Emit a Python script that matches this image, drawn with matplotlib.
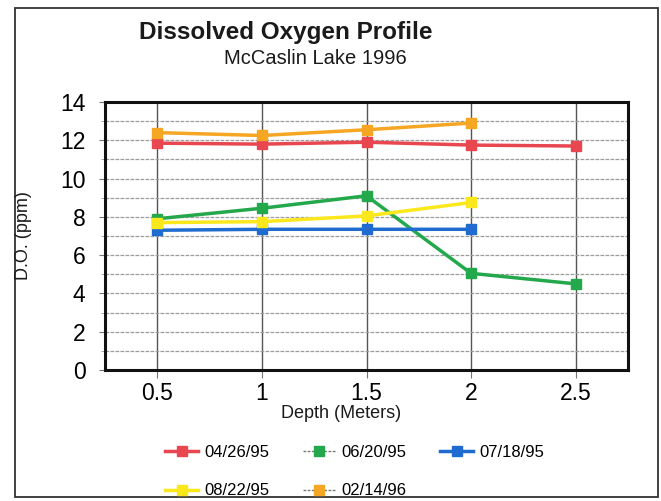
import matplotlib
matplotlib.use("Agg")
import matplotlib.pyplot as plt
from matplotlib.lines import Line2D
from matplotlib.patches import Rectangle

plt.rcParams['font.family'] = ['Liberation Sans', 'DejaVu Sans']

# depth in meters
depth = [0.5, 1.0, 1.5, 2.0, 2.5]

# dissolved oxygen (ppm) per sampling date
do_0426 = [11.85, 11.8, 11.9, 11.75, 11.7]
do_0620 = [7.9, 8.45, 9.1, 5.05, 4.5]
do_0718 = [7.3, 7.35, 7.35, 7.35]
do_0822 = [7.7, 7.75, 8.05, 8.75]
do_0214 = [12.4, 12.25, 12.55, 12.9]

dates = ['04/26/95', '06/20/95', '07/18/95', '08/22/95', '02/14/96']
y_ticks = [0, 2, 4, 6, 8, 10, 12, 14]

colors = {
    '04/26/95': '#e8474f',
    '06/20/95': '#23a84b',
    '07/18/95': '#1f6bcf',
    '08/22/95': '#fbe81c',
    '02/14/96': '#f5a623',
}

fig = plt.figure(figsize=(6.61, 5.01), dpi=100)
ax = fig.add_axes([105 / 661, 1 - 370 / 501, 523 / 661, 268 / 501])

series = [do_0426, do_0620, do_0718, do_0822, do_0214]
for label, vals in zip(dates, series):
    ax.plot(depth[:len(vals)], vals, color=colors[label], linewidth=2.5,
            marker='s', markersize=7.5, zorder=3)

ax.set_xlim(0.25, 2.75)
ax.set_ylim(0, 14)
ax.set_xticks(depth)
ax.set_xticklabels(['0.5', '1', '1.5', '2', '2.5'])
ax.set_yticks(y_ticks)
ax.set_yticks(range(0, 15), minor=True)

# grid
ax.grid(axis='y', which='both', color='#9c9c9c', linestyle=(0, (3, 1)), linewidth=0.9)
ax.grid(axis='x', which='major', color='#555555', linestyle='-', linewidth=1.0)
ax.set_axisbelow(True)

for side in ['left', 'right', 'top', 'bottom']:
    ax.spines[side].set_linewidth(2.2)
    ax.spines[side].set_color('#111111')

ax.tick_params(axis='y', which='major', labelsize=16.5, length=4, color='#777777', pad=10)
ax.tick_params(axis='y', which='minor', length=3, color='#999999')
ax.tick_params(axis='x', labelsize=16.5, length=6, color='#777777', pad=3)

# titles and axis labels
fig.text(286 / 661, 1 - 33 / 501, 'Dissolved Oxygen Profile', ha='center', va='center',
         fontsize=17.5, fontweight='bold', color='#1a1a1a')
fig.text(315 / 661, 1 - 58 / 501, 'McCaslin Lake 1996', ha='center', va='center',
         fontsize=14.5, color='#1a1a1a')
fig.text(341 / 661, 1 - 413 / 501, 'Depth (Meters)', ha='center', va='center',
         fontsize=13, color='#1a1a1a')
fig.text(24 / 661, 1 - 236 / 501, 'D.O. (ppm)', ha='center', va='center',
         rotation=90, fontsize=13, color='#1a1a1a')

# legend (ordered so that columns fill row by row)
def handle(label, dashed=False):
    if dashed:
        return Line2D([], [], color='#777777', linestyle=(0, (2, 1)), linewidth=1.0,
                      marker='s', markersize=7.5, markerfacecolor=colors[label],
                      markeredgecolor=colors[label])
    return Line2D([], [], color=colors[label], linewidth=2.5, marker='s', markersize=7.5)

order = ['04/26/95', '08/22/95', '06/20/95', '02/14/96', '07/18/95']
handles = [handle(d, dashed=d in ('06/20/95', '02/14/96')) for d in order]
fig.legend(handles, order, loc='upper left', bbox_to_anchor=(165 / 661, 1 - 445 / 501),
           ncol=3, frameon=False, fontsize=12, handlelength=2.0, handletextpad=0.35,
           columnspacing=2.0, labelspacing=1.4, borderpad=0, borderaxespad=0)

# outer border
fig.patches.append(Rectangle((15 / 661, 1 - 497 / 501), 643 / 661, 489 / 501,
                             transform=fig.transFigure, fill=False,
                             edgecolor='#333333', linewidth=1.3))

fig.savefig('out.png', dpi=100)
